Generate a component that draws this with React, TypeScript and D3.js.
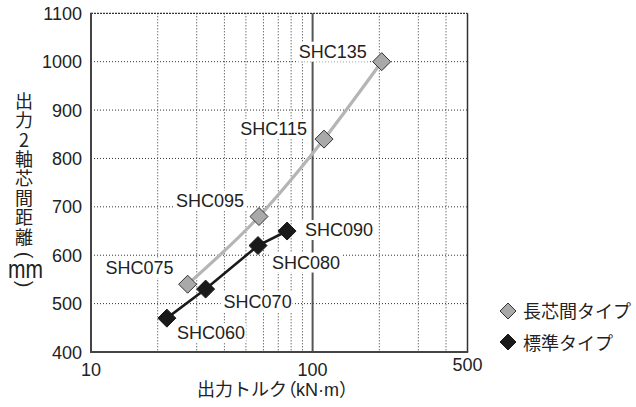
import React from "react";
import * as d3 from "d3";

const longModels = ["SHC075", "SHC095", "SHC115", "SHC135"];
const longTorque = [27.3, 57.3, 112.6, 205];
const longDistance = [540, 680, 840, 1000];

const stdModels = ["SHC060", "SHC070", "SHC080", "SHC090"];
const stdTorque = [22, 32.9, 56.7, 76.7];
const stdDistance = [470, 530, 620, 650];

const xTickLabels = [10, 100, 500];
const yTickValues = [400, 500, 600, 700, 800, 900, 1000, 1100];
const xMinorGrid = [20, 30, 40, 50, 60, 70, 80, 90, 200, 300, 400];
const xMajorGrid = [100];

const legendLabels = ["長芯間タイプ", "標準タイプ"];
const yTitleMain = "出力2軸芯間距離";
const yTitleOpen = "(";
const yTitleUnit = "mm";
const yTitleClose = ")";
const xTitleMain = "出力トルク";
const xTitleUnit = "kN·m";

// label placement offsets (style, relative to the point)
const longLabelOffsets = [
  [-14, -10],
  [-15, -10],
  [-17, -4],
  [-15, -4],
];
const stdLabelOffsets = [
  [10, 21],
  [18, 19],
  [14, 23],
  [18, 5],
];

const LATIN = "'Liberation Sans', Arial, Helvetica, sans-serif";
const CJK = "'Noto Sans CJK JP', 'Noto Sans', sans-serif";

const W = 636;
const H = 407;
const left = 91;
const right = 467.5;
const top = 13.3;
const bottom = 352;

function diamond(cx: number, cy: number, r: number) {
  return `M${cx},${cy - r}L${cx + r},${cy}L${cx},${cy + r}L${cx - r},${cy}Z`;
}

export default function App() {
  const x = d3.scaleLog().domain([10, 500]).range([left, right]);
  const y = d3.scaleLinear().domain([400, 1100]).range([bottom, top]);

  const longPts = longTorque.map((t, i) => [x(t), y(longDistance[i])] as [number, number]);
  const stdPts = stdTorque.map((t, i) => [x(t), y(stdDistance[i])] as [number, number]);

  const curveLine = d3.line().curve(d3.curveMonotoneX);
  const straightLine = d3.line();

  const textColor = "#222";
  const fs = 18;
  const labelW = 66;
  const vertical = { writingMode: "vertical-rl", textOrientation: "upright" } as any;

  const renderLabel = (name: string, p: [number, number], off: number[], anchor: "start" | "end", key: string) => {
    const tx = p[0] + off[0];
    const ty = p[1] + off[1];
    const x0 = anchor === "start" ? tx : tx - labelW;
    return (
      <g key={key}>
        <rect x={x0 - 3} y={ty - 16} width={labelW + 6} height={20} fill="#fff" />
        <text x={tx} y={ty} textAnchor={anchor} fontFamily={LATIN} fontSize={fs} fill={textColor}>
          {name}
        </text>
      </g>
    );
  };

  return (
    <svg
      width={W}
      height={H}
      style={{ position: "absolute", left: 0, top: 0, background: "#fff" }}
      xmlns="http://www.w3.org/2000/svg"
    >
      <rect x={0} y={0} width={W} height={H} fill="#fff" />
      {/* horizontal grid */}
      {yTickValues
        .filter((v) => v > 400 && v < 1100)
        .map((v) => (
          <line
            key={"hg" + v}
            x1={left}
            x2={right}
            y1={y(v)}
            y2={y(v)}
            stroke="#333"
            strokeWidth={1}
            strokeDasharray="1,2"
          />
        ))}
      {/* vertical minor grid */}
      {xMinorGrid.map((v) => (
        <line
          key={"vg" + v}
          x1={x(v)}
          x2={x(v)}
          y1={top}
          y2={bottom}
          stroke="#333"
          strokeWidth={1}
          strokeDasharray="1,2"
        />
      ))}
      {xMajorGrid.map((v) => (
        <line key={"vm" + v} x1={x(v)} x2={x(v)} y1={top} y2={bottom} stroke="#555" strokeWidth={2} />
      ))}

      {/* frame */}
      <line x1={left} x2={right} y1={top} y2={top} stroke="#333" strokeWidth={1.2} strokeDasharray="2,1" />
      <line x1={right} x2={right} y1={top} y2={bottom} stroke="#333" strokeWidth={1.5} />
      <line x1={left} x2={left} y1={top - 0.5} y2={bottom + 1} stroke="#444" strokeWidth={2} />
      <line x1={left - 1} x2={right + 0.7} y1={bottom} y2={bottom} stroke="#444" strokeWidth={2} />

      {/* labels */}
      {longModels.map((m, i) => renderLabel(m, longPts[i], longLabelOffsets[i], "end", "ll" + i))}
      {stdModels.map((m, i) => renderLabel(m, stdPts[i], stdLabelOffsets[i], "start", "sl" + i))}

      {/* lines */}
      <path d={curveLine(longPts) || ""} fill="none" stroke="#b5b5b5" strokeWidth={3.2} />
      <path d={straightLine(stdPts) || ""} fill="none" stroke="#1a1a1a" strokeWidth={2.6} />

      {/* markers */}
      {longPts.map((p, i) => (
        <path key={"lm" + i} d={diamond(p[0], p[1], 9)} fill="#a9a9a9" stroke="#333" strokeWidth={1} />
      ))}
      {stdPts.map((p, i) => (
        <path key={"sm" + i} d={diamond(p[0], p[1], 9)} fill="#1a1a1a" stroke="#1a1a1a" strokeWidth={1} />
      ))}

      {/* y ticks */}
      {yTickValues.map((v) => (
        <text
          key={"yt" + v}
          x={82}
          y={y(v) + 6.5}
          textAnchor="end"
          fontFamily={LATIN}
          fontSize={fs}
          fill={textColor}
        >
          {v}
        </text>
      ))}
      {/* x ticks */}
      {xTickLabels.map((v) => (
        <text
          key={"xt" + v}
          x={x(v)}
          y={v === 500 ? 371 : 375.5}
          textAnchor="middle"
          fontFamily={LATIN}
          fontSize={fs}
          fill={textColor}
        >
          {v}
        </text>
      ))}

      {/* x title */}
      <text x={277} y={396} textAnchor="middle" fontFamily={CJK} fontSize={fs} fill={textColor}>
        {xTitleMain}
        <tspan style={{ fontFeatureSettings: "'palt'" }}>（</tspan>
        <tspan fontFamily={LATIN}>{xTitleUnit}</tspan>
        <tspan>）</tspan>
      </text>

      {/* y title */}
      <text x={24} y={92} fontFamily={CJK} fontSize={fs} fill={textColor} letterSpacing={1.4} style={vertical}>
        {yTitleMain}
      </text>
      <text
        x={0}
        y={0}
        textAnchor="middle"
        fontFamily={LATIN}
        fontSize={20}
        fill={textColor}
        transform="translate(24,255) rotate(90) translate(0,6.5)"
      >
        {yTitleOpen}
      </text>
      <text
        x={25.5}
        y={278}
        textAnchor="middle"
        fontFamily={LATIN}
        fontSize={26}
        textLength={35}
        lengthAdjust="spacingAndGlyphs"
        fill={textColor}
      >
        {yTitleUnit}
      </text>
      <text
        x={0}
        y={0}
        textAnchor="middle"
        fontFamily={LATIN}
        fontSize={20}
        fill={textColor}
        transform="translate(24,284) rotate(90) translate(0,6.5)"
      >
        {yTitleClose}
      </text>

      {/* legend */}
      {legendLabels.map((l, i) => (
        <g key={"lg" + i}>
          <path
            d={diamond(508, 311 + i * 31, 8)}
            fill={i === 0 ? "#a9a9a9" : "#1a1a1a"}
            stroke={i === 0 ? "#333" : "#1a1a1a"}
            strokeWidth={1}
          />
          <text x={523} y={318 + i * 32} fontFamily={CJK} fontSize={fs} fill={textColor}>
            {l}
          </text>
        </g>
      ))}
    </svg>
  );
}
